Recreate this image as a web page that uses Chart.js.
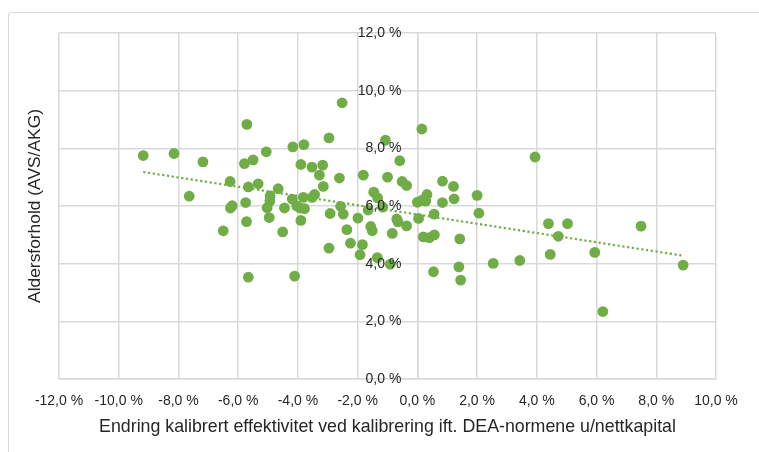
<!DOCTYPE html>
<html>
<head>
<meta charset="utf-8">
<script src="https://cdn.jsdelivr.net/npm/chart.js@4/dist/chart.umd.min.js"></script>
<style>
  html, body { margin: 0; padding: 0; background: #fff; }
  #wrap { position: relative; width: 759px; height: 452px; overflow: hidden; }
  #frame { position: absolute; left: 8px; top: 12px; width: 790px; height: 490px;
           border: 1px solid #d9d9d9; border-radius: 3px; box-sizing: border-box; }
  #c { position: absolute; left: 0; top: 0; }
</style>
</head>
<body>
<div id="wrap">
  <div id="frame"></div>
  <canvas id="c" width="759" height="452"></canvas>
</div>
<script>
// Change in calibrated efficiency (percent) per company
const effektEndring = [
  -9.18, -8.15, -7.18, -7.64, -5.71, -5.79, -5.50, -5.06, -6.27, -5.66,
  -5.33, -4.66, -4.17, -3.80, -2.96, -2.52, -3.90, -3.53, -3.17, -3.28,
  -2.61, -1.81, -3.15, -4.93, -4.94, -5.03, -6.26, -6.20, -5.75, -5.72,
  -4.96, -4.45, -4.51, -6.50, -5.66, -4.11, -4.19, -3.82, -3.52, -3.44,
  -4.04, -3.93, -3.78, -3.90, -2.92, -2.57, -2.48, -2.36, -2.96, -2.24,
  -1.84, -1.92, -1.99, -1.56, -1.51, -1.46, -1.65, -1.34, 0.15, -1.07,
  -0.59, -1.00, -0.51, -0.36, -1.33, -1.16, -0.91, -0.84, -0.69, -0.65,
  -0.36, 0.00, 0.16, 0.28, 0.32, 0.04, 0.56, 0.84, 0.84, 1.21,
  1.23, 2.00, 2.06, 0.20, 0.40, 0.57, 1.42, 0.54, 1.39, 1.45,
  2.54, 3.43, 3.94, 4.39, 5.03, 4.72, 4.45, 5.94, 7.49, 8.90,
  6.21
];
// Age ratio AVS/AKG (percent) for the same companies
const aldersforhold = [
  7.75, 7.82, 7.53, 6.34, 8.83, 7.47, 7.60, 7.88, 6.85, 6.66,
  6.77, 6.60, 8.05, 8.13, 8.36, 9.58, 7.44, 7.35, 7.42, 7.07,
  6.97, 7.07, 6.68, 6.35, 6.17, 5.94, 5.93, 6.01, 6.12, 5.46,
  5.60, 5.93, 5.10, 5.14, 3.53, 3.57, 6.24, 6.30, 6.30, 6.40,
  6.00, 5.93, 5.91, 5.50, 5.74, 5.99, 5.72, 5.18, 4.54, 4.71,
  4.66, 4.31, 5.58, 5.29, 5.14, 6.48, 5.86, 4.21, 8.67, 8.28,
  7.57, 7.00, 6.85, 6.71, 6.28, 5.96, 3.98, 5.05, 5.55, 5.45,
  5.31, 6.13, 6.20, 6.17, 6.40, 5.57, 5.72, 6.12, 6.86, 6.68,
  6.25, 6.37, 5.75, 4.93, 4.90, 5.00, 4.86, 3.72, 3.89, 3.43,
  4.01, 4.11, 7.70, 5.39, 5.39, 4.95, 4.32, 4.39, 5.30, 3.95,
  2.34
];
// Axis ranges and tick steps (percent)
const xRange = [-12, 10];
const yRange = [0, 12];
const tickStep = 2;

const points = effektEndring.map((x, i) => ({ x: x, y: aldersforhold[i] }));

// Least-squares linear trend over the observations
const n = effektEndring.length;
const mx = effektEndring.reduce((a, b) => a + b, 0) / n;
const my = aldersforhold.reduce((a, b) => a + b, 0) / n;
let sxy = 0, sxx = 0;
for (let i = 0; i < n; i++) {
  sxy += (effektEndring[i] - mx) * (aldersforhold[i] - my);
  sxx += (effektEndring[i] - mx) ** 2;
}
const slope = sxy / sxx;
const icept = my - slope * mx;
const xLo = Math.min(...effektEndring), xHi = Math.max(...effektEndring);
const trend = [{ x: xLo, y: icept + slope * xLo }, { x: xHi, y: icept + slope * xHi }];

const pct = v => v.toFixed(1).replace('.', ',') + ' %';
const green = '#70ad47';
const gridColor = '#d9d9d9';
const textColor = '#262626';
const font = 'Liberation Sans';

// Y tick labels sit just left of the vertical axis at x = 0, above the markers
const yLabelPlugin = {
  id: 'yLabels',
  afterDatasetsDraw(chart) {
    const { ctx, scales: { x, y } } = chart;
    const ax = x.getPixelForValue(0);
    ctx.save();
    ctx.font = '14px "' + font + '"';
    ctx.fillStyle = textColor;
    ctx.textAlign = 'right';
    ctx.textBaseline = 'middle';
    y.ticks.forEach(t => {
      ctx.fillText(pct(t.value), ax - 16, y.getPixelForValue(t.value));
    });
    ctx.restore();
  }
};

new Chart(document.getElementById('c'), {
  type: 'scatter',
  data: {
    datasets: [
      {
        data: points,
        backgroundColor: green,
        borderWidth: 0,
        pointRadius: 5.4,
        pointHoverRadius: 5.4,
        order: 0
      },
      {
        type: 'line',
        data: trend,
        borderColor: green,
        borderWidth: 2.2,
        borderDash: [2.2, 2.6],
        pointRadius: 0,
        fill: false,
        order: 1
      }
    ]
  },
  plugins: [yLabelPlugin],
  options: {
    responsive: false,
    animation: false,
    events: [],
    layout: { padding: { left: 0, right: 43, top: 33, bottom: 0 } },
    plugins: { legend: { display: false }, tooltip: { enabled: false } },
    scales: {
      x: {
        type: 'linear',
        position: 'bottom',
        min: xRange[0], max: xRange[1],
        afterFit: s => { s.height = 73; },
        afterBuildTicks: s => {
          s.ticks = [];
          for (let v = xRange[0]; v <= xRange[1]; v += tickStep) s.ticks.push({ value: v });
        },
        ticks: { callback: v => pct(v), padding: 14, color: textColor, font: { family: font, size: 14 }, maxRotation: 0 },
        grid: { color: gridColor, lineWidth: 1.5, drawTicks: false },
        border: { color: gridColor, width: 1.5 },
        title: {
          display: true,
          text: 'Endring kalibrert effektivitet ved kalibrering ift. DEA-normene u/nettkapital',
          color: textColor,
          font: { family: font, size: 17.8 },
          padding: { top: 0, bottom: 14 }
        }
      },
      y: {
        type: 'linear',
        position: { x: 0 },
        min: yRange[0], max: yRange[1],
        afterBuildTicks: s => {
          s.ticks = [];
          for (let v = yRange[0]; v <= yRange[1]; v += tickStep) s.ticks.push({ value: v });
        },
        ticks: { display: false },
        grid: { color: gridColor, lineWidth: 1.5, drawTicks: false },
        border: { color: gridColor, width: 1.5 }
      },
      yTitle: {
        type: 'linear',
        axis: 'y',
        position: 'left',
        min: 0, max: 1,
        afterFit: s => { s.width = 59; },
        ticks: { display: false },
        grid: { display: false },
        border: { display: false },
        title: {
          display: true,
          text: 'Aldersforhold (AVS/AKG)',
          color: textColor,
          font: { family: font, size: 17.4 },
          padding: { top: 25, bottom: 0 }
        }
      }
    }
  }
});
</script>
</body>
</html>
